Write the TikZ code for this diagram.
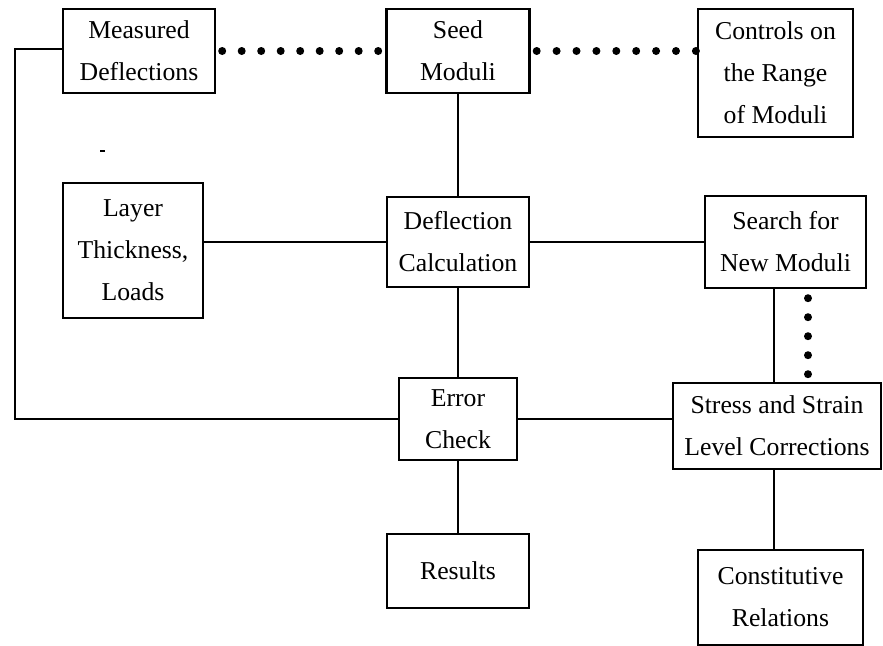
\documentclass[tikz,border=0pt]{standalone}
\usepackage{fontspec}
\setmainfont{Liberation Serif}
\usetikzlibrary{calc}
\begin{document}
\begin{tikzpicture}[x=0.75pt,y=-0.75pt,
  box/.style={draw,line width=1.8pt,align=center,inner sep=0pt,
    font=\fontsize{19.3}{31.5}\selectfont},
  link/.style={line width=1.9pt},
  thin link/.style={line width=1.0pt},
  loop link/.style={line width=1.3pt},
  dotmark/.style={fill=black}]
\useasboundingbox (0,0) rectangle (883,646);
% boxes
\node[box,minimum width=152*0.75pt,minimum height=84*0.75pt] (meas) at (139,51) {Measured\\Deflections};
\node[box,minimum width=143*0.75pt,minimum height=84*0.75pt] (seed) at (458,51) {Seed\\Moduli};
\node[box,minimum width=155*0.75pt,minimum height=128*0.75pt] (ctrl) at (775.5,73) {Controls on\\the Range\\of Moduli};
\node[box,minimum width=140*0.75pt,minimum height=135*0.75pt] (layer) at (133,250.5) {Layer\\Thickness,\\Loads};
\node[box,minimum width=142*0.75pt,minimum height=90*0.75pt] (defl) at (458,242) {Deflection\\Calculation};
\node[box,minimum width=161*0.75pt,minimum height=92*0.75pt] (search) at (785.5,242) {Search for\\New Moduli};
\node[box,minimum width=118*0.75pt,minimum height=82*0.75pt] (error) at (458,419) {Error\\Check};
\node[box,minimum width=208*0.75pt,minimum height=86*0.75pt] (stress) at (777,426) {Stress and Strain\\Level Corrections};
\node[box,minimum width=142*0.75pt,minimum height=74*0.75pt] (results) at (458,571) {Results};
\node[box,minimum width=165*0.75pt,minimum height=95*0.75pt] (const) at (780.5,597.5) {Constitutive\\Relations};
% dotted connectors
\foreach \i in {0,...,8} \fill[dotmark] ($(meas.east)+(6+19.5*\i,0)$) circle (4);
\foreach \i in {0,...,8} \fill[dotmark] ($(seed.east)+(6+19.9*\i,0)$) circle (4);
\foreach \i in {0,...,4} \fill[dotmark] ($(search.south)+(22.5,9+19*\i)$) circle (4);
% solid connectors
\draw[link] (seed.south) -- (defl.north);
\draw[thin link] (defl.west -| layer.east) -- (defl.west);
\draw[link] (defl.east) -- (defl.east -| search.west);
\draw[link] (defl.south) -- (error.north);
\draw[link] (error.south) -- (results.north);
\draw[link] (error.east) -- (error.east -| stress.west);
\coordinate (sv) at ($(search.south)+(-11.5,0)$);
\draw[link] (sv) -- (sv |- stress.north);
\coordinate (cv) at ($(stress.south)+(-3,0)$);
\draw[thin link] (cv) -- (cv |- const.north);
\coordinate (lp) at ($(meas.west)+(-47,-2)$);
\draw[loop link] ($(meas.west)+(0,-2)$) -- (lp) |- (error.west);
% stray mark
\fill (100,149.5) rectangle (105,152);
\end{tikzpicture}
\end{document}
